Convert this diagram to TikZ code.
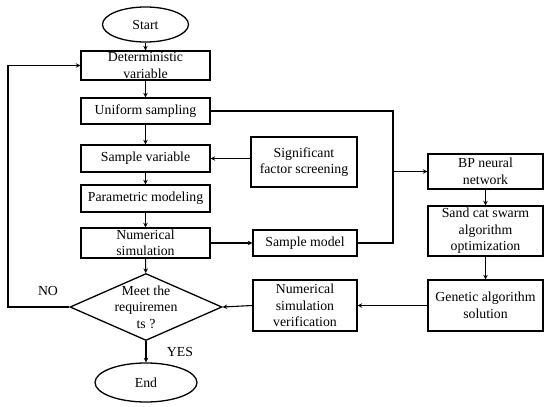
\documentclass[tikz,border=0pt]{standalone}
\usepackage{fontspec}
\setmainfont{Liberation Serif}
\usetikzlibrary{shapes.geometric,arrows.meta}
\begin{document}
\begin{tikzpicture}[x=1pt,y=-1pt,
  every node/.style={font=\fontsize{13.8}{16.5}\selectfont, align=center, inner sep=0pt},
  box/.style={draw, line width=1.3pt, rectangle},
  oval/.style={draw, line width=1.3pt, ellipse},
  conn/.style={line width=1.1pt},
  arr/.style={conn, -{Stealth[length=4.5pt,width=4.5pt]}}]
\useasboundingbox (0,0) rectangle (550,407);
\node[oval, minimum width=86pt, minimum height=35pt] (start) at (145.5,24.5) {Start};
\node[box, minimum width=129pt, minimum height=29pt] (det) at (145.5,65.5) {Deterministic\\variable};
\node[box, minimum width=129pt, minimum height=26pt] (uni) at (145.5,111) {Uniform sampling};
\node[box, minimum width=129pt, minimum height=27pt] (sv) at (145.5,158.5) {Sample variable};
\node[box, minimum width=129pt, minimum height=27pt] (pm) at (145.5,198.5) {Parametric modeling};
\node[box, minimum width=129pt, minimum height=30pt] (ns) at (145.5,243) {Numerical\\simulation};
\node[draw, line width=1.3pt, diamond, minimum width=152pt, minimum height=67pt] (dia) at (146,307) {};
\node (diat) at (146,307) {Meet the\\requiremen\\ts ?};
\node[oval, minimum width=102pt, minimum height=39pt] (end) at (146,382.5) {End};
\node[box, minimum width=106pt, minimum height=50pt] (sfs) at (304,162) {Significant\\factor screening};
\node[box, minimum width=104pt, minimum height=26pt] (sm) at (305,243) {Sample model};
\node[box, minimum width=104pt, minimum height=51pt] (nsv) at (305,305.5) {Numerical\\simulation\\verification};
\node[box, minimum width=115pt, minimum height=35pt] (bp) at (485.5,171.5) {BP neural\\network};
\node[box, minimum width=115pt, minimum height=50pt] (sc) at (485.5,231) {Sand cat swarm\\algorithm\\optimization};
\node[box, minimum width=115pt, minimum height=51pt] (ga) at (485.5,305.5) {Genetic algorithm\\solution};
\node (no) at (48,291) {NO};
\node (yes) at (180,352) {YES};
\coordinate (j) at (393,171.5);
\coordinate (lp) at (8,307);
\draw[arr] (start) -- (det);
\draw[arr] (det) -- (uni);
\draw[arr] (uni) -- (sv);
\draw[arr] (sv) -- (pm);
\draw[arr] (pm) -- (ns);
\draw[arr] (ns) -- (dia);
\draw[arr] (dia) -- (end);
\draw[arr] (sfs.west |- sv) -- (sv.east);
\draw[arr] (ns.east) -- (sm.west);
\draw[conn] (uni.east) -| (j);
\draw[conn] (sm.east) -| (j);
\draw[arr] (j) -- (bp.west);
\draw[arr] (bp) -- (sc);
\draw[arr] (sc) -- (ga);
\draw[arr] (ga.west) -- (nsv.east);
\draw[arr] (nsv.west) -- (dia.east);
\draw[arr] (dia.west) -- (lp) |- (det.west);
\end{tikzpicture}
\end{document}
